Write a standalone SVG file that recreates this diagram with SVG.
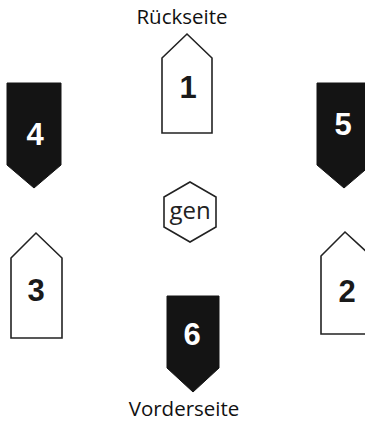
<svg xmlns="http://www.w3.org/2000/svg" width="365" height="421" viewBox="0 0 365 421">
<style>
.w{fill:#fff;stroke:#222;stroke-width:1.6;stroke-linejoin:miter}
.b{fill:#141414;stroke:#141414;stroke-width:1}
.d{font-family:"Liberation Sans",Arial,sans-serif;font-weight:bold;font-size:31px;text-anchor:middle}
.dw{fill:#fff}
.dk{fill:#1a1a1a}
.lbl{font-family:"Open Sans",sans-serif;font-size:20.5px;fill:#111;text-anchor:middle}
</style>
<rect width="365" height="421" fill="#fff"/>
<g id="connectors"></g>
<g id="label-rueckseite"><text class="lbl" x="182" y="24">Rückseite</text></g>
<g id="node-1">
<polygon class="w" points="162,58 187,34 212,58 212,133 162,133"/>
<text class="d dk" x="188" y="98">1</text>
</g>
<g id="node-4">
<polygon class="b" points="7,83 61,83 61,165 34,188 7,165"/>
<text class="d dw" x="35" y="145">4</text>
</g>
<g id="node-5">
<polygon class="b" points="317,83 371,83 371,165 344,188 317,165"/>
<text class="d dw" x="343" y="135">5</text>
</g>
<g id="node-gen">
<polygon class="w" points="190,182 216,197 216,227 190,242 164,227 164,197"/>
<text x="190" y="219" style="font-family:'Open Sans',sans-serif;font-size:24px;fill:#222;text-anchor:middle">gen</text>
</g>
<g id="node-3">
<polygon class="w" points="11,258 36,233 62,258 62,338 11,338"/>
<text class="d dk" x="36" y="301">3</text>
</g>
<g id="node-2">
<polygon class="w" points="321,256 345,232 371,256 371,334 321,334"/>
<text class="d dk" x="347" y="302">2</text>
</g>
<g id="node-6">
<polygon class="b" points="167,296 219,296 219,368 193,392 167,368"/>
<text class="d dw" x="192" y="345">6</text>
</g>
<g id="label-vorderseite"><text class="lbl" x="184" y="416">Vorderseite</text></g>
</svg>
